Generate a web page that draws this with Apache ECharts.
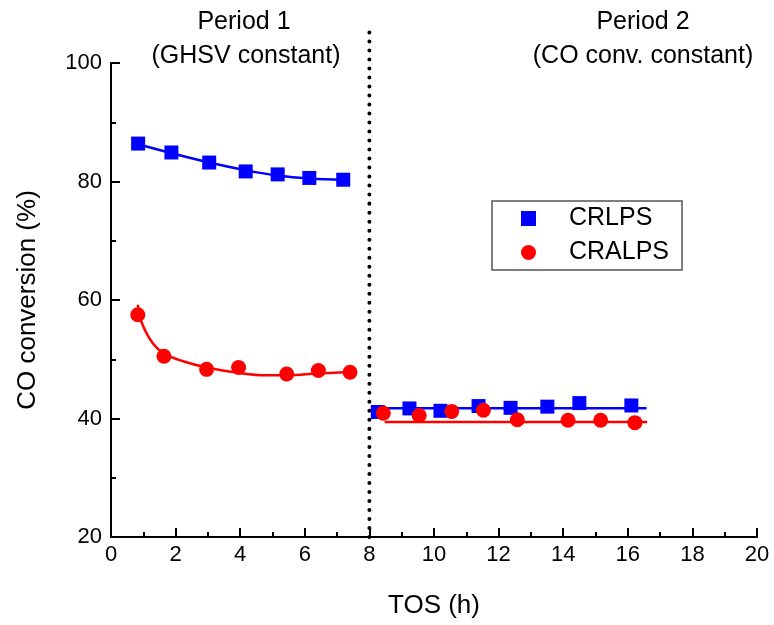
<!DOCTYPE html>
<html>
<head>
<meta charset="utf-8">
<script src="https://cdn.jsdelivr.net/npm/echarts@6/dist/echarts.min.js"></script>
<style>html,body{margin:0;padding:0;background:#fff;}#c{width:774px;height:625px;}</style>
</head>
<body>
<div id="c"></div>
<script>
// ---- data ----
const tosCRLPS  = [0.84, 1.87, 3.04, 4.17, 5.16, 6.14, 7.19, 8.26, 9.24, 10.20, 11.38, 12.37, 13.51, 14.50, 16.11];
const convCRLPS = [86.4, 84.9, 83.2, 81.7, 81.2, 80.6, 80.3, 41.1, 41.7, 41.3, 42.1, 41.8, 42.0, 42.6, 42.2];
const tosCRALPS  = [0.83, 1.64, 2.96, 3.95, 5.44, 6.42, 7.40, 8.43, 9.54, 10.55, 11.53, 12.58, 14.15, 15.16, 16.22];
const convCRALPS = [57.5, 50.5, 48.3, 48.6, 47.5, 48.1, 47.8, 40.9, 40.5, 41.2, 41.4, 39.8, 39.7, 39.7, 39.3];

// fitted curves
const fitCRLPS1x = [0.84, 1.87, 3.04, 4.17, 5.16, 6.14, 7.19];
const fitCRLPS1y = [86.3, 84.8, 83.2, 81.9, 81.0, 80.5, 80.3];
const fitCRLPS2x = [8.10, 16.58];
const fitCRLPS2y = [41.75, 41.75];
const fitCRALPS1x = [0.83, 0.95, 1.28, 1.64, 2.21, 2.96, 3.95, 4.80, 5.44, 6.42, 7.40];
const fitCRALPS1y = [59.2, 56.2, 52.8, 51.0, 49.7, 48.6, 47.7, 47.3, 47.3, 47.6, 47.85];
const fitCRALPS2x = [8.47, 16.60];
const fitCRALPS2y = [39.4, 39.4];

// period divider
const dividerX = [8, 8];
const dividerY = [20, 105.7];

const xTicks = {min: 0, max: 20, interval: 2};
const yTicks = {min: 20, max: 100, interval: 20};

const seriesNames = ['CRLPS', 'CRALPS'];
const periodTexts = [['Period 1', '(GHSV constant)'], ['Period 2', '(CO conv. constant)']];

const zip = (a, b) => a.map((v, i) => [v, b[i]]);

const FONT = "'Liberation Sans', Arial, sans-serif";
const BLUE = '#0000ff', RED = '#ff0000';

const chart = echarts.init(document.getElementById('c'), null, {renderer: 'canvas'});

const lineSeries = (x, y, color, smooth) => ({
  type: 'line', data: zip(x, y), smooth: smooth, showSymbol: false, symbol: 'none',
  lineStyle: {color: color, width: 2.5}, silent: true, z: 2, animation: false
});

const txt = (x, y, s) => ({type: 'text', x: x, y: y,
  style: {text: s, font: "25px 'Liberation Sans', Arial", fill: '#000', align: 'center', verticalAlign: 'middle'}});

chart.setOption({
  animation: false,
  backgroundColor: '#fff',
  grid: {left: 111, top: 63, width: 646, height: 474, containLabel: false},
  xAxis: {
    type: 'value', min: xTicks.min, max: xTicks.max, interval: xTicks.interval,
    name: 'TOS (h)', nameLocation: 'middle', nameGap: 56,
    nameTextStyle: {fontFamily: FONT, fontSize: 26, color: '#000'},
    axisLine: {show: true, onZero: false, lineStyle: {color: '#000', width: 2}},
    axisTick: {show: true, inside: true, length: 9, lineStyle: {color: '#000', width: 2}},
    minorTick: {show: true, splitNumber: 2, length: 5, lineStyle: {color: '#000', width: 2}},
    axisLabel: {fontFamily: FONT, fontSize: 22, color: '#000', margin: 7},
    splitLine: {show: false}
  },
  yAxis: {
    type: 'value', min: yTicks.min, max: yTicks.max, interval: yTicks.interval,
    name: 'CO conversion (%)', nameLocation: 'middle', nameGap: 70,
    nameTextStyle: {fontFamily: FONT, fontSize: 26, color: '#000'},
    axisLine: {show: true, onZero: false, lineStyle: {color: '#000', width: 2}},
    axisTick: {show: true, inside: true, length: 9, lineStyle: {color: '#000', width: 2}},
    minorTick: {show: true, splitNumber: 2, length: 5, lineStyle: {color: '#000', width: 2}},
    axisLabel: {fontFamily: FONT, fontSize: 22, color: '#000', margin: 9},
    splitLine: {show: false}
  },
  legend: {
    data: [{name: seriesNames[0], icon: 'rect'}, {name: seriesNames[1], icon: 'circle'}],
    orient: 'vertical', left: 492, top: 201,
    itemWidth: 15, itemHeight: 15, itemGap: 9,
    padding: [5, 13, 5, 29],
    borderColor: '#555', borderWidth: 1.5,
    textStyle: {fontFamily: FONT, fontSize: 25, color: '#000', padding: [0, 0, 0, 28]},
    selectedMode: false
  },
  graphic: [
    txt(244, 22, periodTexts[0][0]),
    txt(246, 56, periodTexts[0][1]),
    txt(643, 22, periodTexts[1][0]),
    txt(643, 56, periodTexts[1][1])
  ],
  series: [
    {
      type: 'line', data: zip(dividerX, dividerY), symbol: 'none', clip: false, silent: true, z: 1,
      lineStyle: {color: '#000', width: 4, type: [0.01, 9], cap: 'round'}
    },
    lineSeries(fitCRLPS1x, fitCRLPS1y, BLUE, 0.4),
    lineSeries(fitCRLPS2x, fitCRLPS2y, BLUE, false),
    lineSeries(fitCRALPS1x, fitCRALPS1y, RED, 0.4),
    lineSeries(fitCRALPS2x, fitCRALPS2y, RED, false),
    {
      name: seriesNames[0], type: 'scatter', data: zip(tosCRLPS, convCRLPS),
      symbol: 'rect', symbolSize: 14, itemStyle: {color: BLUE, opacity: 1}, z: 5
    },
    {
      name: seriesNames[1], type: 'scatter', data: zip(tosCRALPS, convCRALPS),
      symbol: 'circle', symbolSize: 15, itemStyle: {color: RED, opacity: 1}, z: 6
    }
  ]
});
</script>
</body>
</html>
